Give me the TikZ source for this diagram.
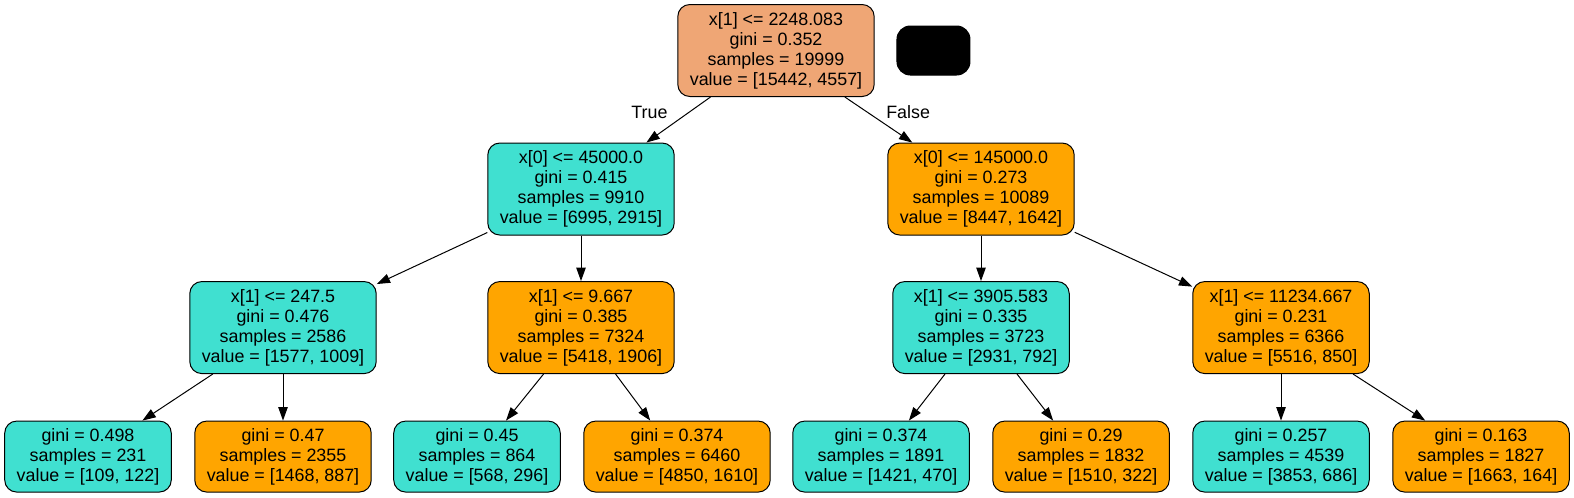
\documentclass[tikz,border=0pt]{standalone}
\usepackage{fontspec}
\setmainfont{Liberation Sans}
\usetikzlibrary{positioning, arrows.meta}

\definecolor{rootfill}{HTML}{EFA675}
\definecolor{turq}{HTML}{40E0D0}
\definecolor{orng}{HTML}{FFA500}

\begin{document}
\begin{tikzpicture}[x=0.75pt, y=-0.75pt, on grid,
    box/.style={draw, line width=0.75pt, rounded corners=9pt, align=center,
      inner xsep=9pt, font=\fontsize{13.4}{15}\selectfont},
    split/.style={box, minimum height=69pt},
    leaf/.style={box, minimum height=53.25pt},
    edge/.style={line width=0.75pt, -{Triangle[length=10pt, width=7pt]}},
    lbl/.style={inner sep=0pt, font=\fontsize{13.4}{15}\selectfont}]
  \useasboundingbox (0,0) rectangle (1574,497);
  \node [split, fill=rootfill] (root) at (776,50.5) {x[1] <= 2248.083\\gini = 0.352\\samples = 19999\\value = [15442, 4557]};
  \node [box, fill=black, rounded corners=10pt, minimum width=54.75pt, minimum height=36.75pt, right=118.1pt of root] (key) {};
  \node [split, fill=turq, below left=103.9pt and 146.25pt of root] (a) {x[0] <= 45000.0\\gini = 0.415\\samples = 9910\\value = [6995, 2915]};
  \node [split, fill=orng, below right=103.9pt and 153.75pt of root] (b) {x[0] <= 145000.0\\gini = 0.273\\samples = 10089\\value = [8447, 1642]};
  \node [split, fill=turq, below left=103.9pt and 223.5pt of a] (c1) {x[1] <= 247.5\\gini = 0.476\\samples = 2586\\value = [1577, 1009]};
  \node [split, fill=orng, below=103.9pt of a] (c2) {x[1] <= 9.667\\gini = 0.385\\samples = 7324\\value = [5418, 1906]};
  \node [split, fill=turq, below=103.9pt of b] (c3) {x[1] <= 3905.583\\gini = 0.335\\samples = 3723\\value = [2931, 792]};
  \node [split, fill=orng, below right=103.9pt and 225pt of b] (c4) {x[1] <= 11234.667\\gini = 0.231\\samples = 6366\\value = [5516, 850]};
  \node [leaf, fill=turq, below left=96.75pt and 146.25pt of c1] (f1) {gini = 0.498\\samples = 231\\value = [109, 122]};
  \node [leaf, fill=orng, below=96.75pt of c1] (f2) {gini = 0.47\\samples = 2355\\value = [1468, 887]};
  \node [leaf, fill=turq, below left=96.75pt and 78pt of c2] (f3) {gini = 0.45\\samples = 864\\value = [568, 296]};
  \node [leaf, fill=orng, below right=96.75pt and 72pt of c2] (f4) {gini = 0.374\\samples = 6460\\value = [4850, 1610]};
  \node [leaf, fill=turq, below left=96.75pt and 75pt of c3] (f5) {gini = 0.374\\samples = 1891\\value = [1421, 470]};
  \node [leaf, fill=orng, below right=96.75pt and 75pt of c3] (f6) {gini = 0.29\\samples = 1832\\value = [1510, 322]};
  \node [leaf, fill=turq, below=96.75pt of c4] (f7) {gini = 0.257\\samples = 4539\\value = [3853, 686]};
  \node [leaf, fill=orng, below right=96.75pt and 150pt of c4] (f8) {gini = 0.163\\samples = 1827\\value = [1663, 164]};
  \draw [edge] (root) -- node [lbl, pos=0.33, anchor=east, xshift=-16pt] {True} (a);
  \draw [edge] (root) -- node [lbl, pos=0.33, anchor=west, xshift=14pt] {False} (b);
  \draw [edge] (a) -- (c1);
  \draw [edge] (a) -- (c2);
  \draw [edge] (b) -- (c3);
  \draw [edge] (b) -- (c4);
  \draw [edge] (c1) -- (f1);
  \draw [edge] (c1) -- (f2);
  \draw [edge] (c2) -- (f3);
  \draw [edge] (c2) -- (f4);
  \draw [edge] (c3) -- (f5);
  \draw [edge] (c3) -- (f6);
  \draw [edge] (c4) -- (f7);
  \draw [edge] (c4) -- (f8);
\end{tikzpicture}
\end{document}
